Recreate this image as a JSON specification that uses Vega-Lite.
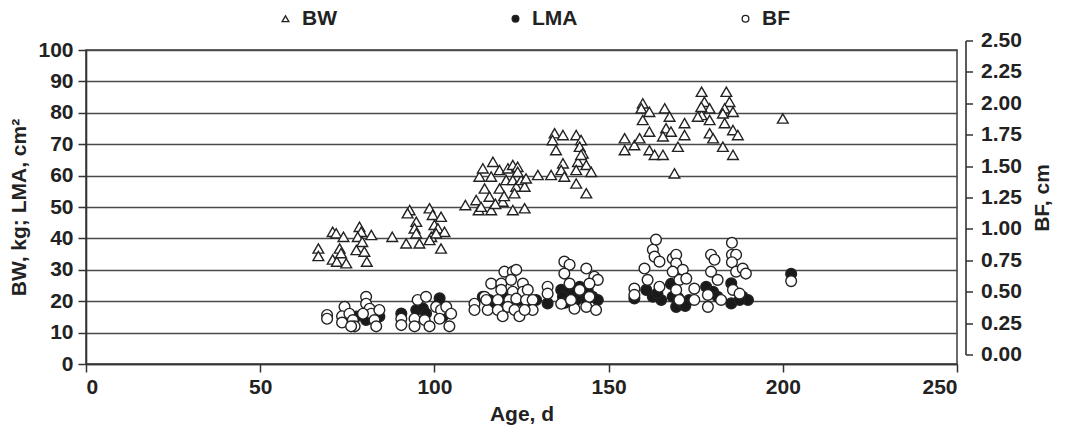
{
  "$schema": "https://vega.github.io/schema/vega-lite/v6.json",
  "width": 871,
  "height": 314,
  "autosize": {"type": "none"},
  "padding": {"left": 86, "top": 50, "right": 108, "bottom": 64},
  "background": "white",
  "datasets": {
    "bwlma": [
      {"age":66.7,"series":"BW","value":36.8},{"age":66.7,"series":"BW","value":34.4},{"age":70.8,"series":"BW","value":42.1},{"age":71.8,"series":"BW","value":41.6},{"age":73.9,"series":"BW","value":40.5},{"age":72.8,"series":"BW","value":36.8},{"age":70.8,"series":"BW","value":33.3},{"age":72.0,"series":"BW","value":32.6},{"age":73.2,"series":"BW","value":35.3},{"age":74.7,"series":"BW","value":32.1},{"age":78.5,"series":"BW","value":43.7},{"age":79.0,"series":"BW","value":42.1},{"age":78.0,"series":"BW","value":40.5},{"age":79.3,"series":"BW","value":38.9},{"age":77.6,"series":"BW","value":36.3},{"age":79.9,"series":"BW","value":35.8},{"age":80.6,"series":"BW","value":32.6},{"age":81.9,"series":"BW","value":41.1},
      {"age":87.9,"series":"BW","value":40.5},{"age":91.9,"series":"BW","value":38.4},{"age":92.9,"series":"BW","value":49.0},{"age":92.3,"series":"BW","value":48.0},{"age":94.8,"series":"BW","value":45.3},{"age":94.3,"series":"BW","value":43.2},{"age":94.8,"series":"BW","value":41.6},{"age":95.7,"series":"BW","value":38.4},{"age":98.6,"series":"BW","value":49.6},{"age":99.5,"series":"BW","value":47.5},{"age":100.0,"series":"BW","value":44.3},{"age":101.9,"series":"BW","value":46.9},{"age":99.1,"series":"BW","value":40.5},{"age":101.0,"series":"BW","value":43.2},{"age":102.9,"series":"BW","value":42.1},{"age":101.9,"series":"BW","value":36.8},{"age":98.6,"series":"BW","value":39.5},{"age":100.5,"series":"BW","value":41.6},
      {"age":108.9,"series":"BW","value":50.6},{"age":112.0,"series":"BW","value":52.2},{"age":112.7,"series":"BW","value":49.0},{"age":112.9,"series":"BW","value":59.7},
      {"age":113.9,"series":"BW","value":62.3},{"age":116.8,"series":"BW","value":64.4},{"age":114.4,"series":"BW","value":55.9},{"age":115.8,"series":"BW","value":53.3},{"age":116.3,"series":"BW","value":49.0},{"age":113.4,"series":"BW","value":50.1},{"age":118.7,"series":"BW","value":61.8},{"age":118.7,"series":"BW","value":55.9},{"age":119.6,"series":"BW","value":51.7},{"age":121.1,"series":"BW","value":62.3},{"age":120.6,"series":"BW","value":58.6},{"age":122.5,"series":"BW","value":63.4},{"age":123.9,"series":"BW","value":62.8},{"age":122.5,"series":"BW","value":58.6},{"age":123.5,"series":"BW","value":56.5},{"age":123.0,"series":"BW","value":54.4},{"age":124.9,"series":"BW","value":58.6},{"age":125.9,"series":"BW","value":56.5},{"age":122.5,"series":"BW","value":49.0},{"age":125.9,"series":"BW","value":49.6},{"age":123.9,"series":"BW","value":61.2},{"age":126.3,"series":"BW","value":59.1},{"age":129.7,"series":"BW","value":60.2},{"age":116.3,"series":"BW","value":59.7},{"age":117.5,"series":"BW","value":51.0},{"age":120.0,"series":"BW","value":53.5},
      {"age":133.5,"series":"BW","value":60.2},{"age":134.5,"series":"BW","value":73.5},{"age":136.9,"series":"BW","value":72.9},{"age":133.9,"series":"BW","value":71.3},{"age":134.9,"series":"BW","value":68.1},{"age":136.9,"series":"BW","value":63.9},{"age":136.4,"series":"BW","value":61.8},{"age":137.3,"series":"BW","value":59.7},{"age":140.7,"series":"BW","value":72.9},{"age":142.1,"series":"BW","value":71.3},{"age":141.7,"series":"BW","value":69.2},{"age":142.6,"series":"BW","value":67.1},{"age":141.2,"series":"BW","value":64.4},{"age":143.6,"series":"BW","value":63.4},{"age":140.7,"series":"BW","value":61.8},{"age":145.0,"series":"BW","value":61.2},{"age":140.7,"series":"BW","value":57.5},{"age":143.6,"series":"BW","value":54.4},{"age":142.1,"series":"BW","value":66.6},
      {"age":154.6,"series":"BW","value":71.9},{"age":154.6,"series":"BW","value":68.1},{"age":157.4,"series":"BW","value":69.7},{"age":158.9,"series":"BW","value":71.9},{"age":159.8,"series":"BW","value":83.0},{"age":159.4,"series":"BW","value":81.4},{"age":161.7,"series":"BW","value":80.3},{"age":159.8,"series":"BW","value":77.7},{"age":161.7,"series":"BW","value":74.0},{"age":161.7,"series":"BW","value":68.1},{"age":163.2,"series":"BW","value":66.6},{"age":165.6,"series":"BW","value":66.6},{"age":166.1,"series":"BW","value":81.4},{"age":167.5,"series":"BW","value":78.8},{"age":166.5,"series":"BW","value":75.1},{"age":167.9,"series":"BW","value":74.0},{"age":165.6,"series":"BW","value":72.5},{"age":169.9,"series":"BW","value":69.2},{"age":171.8,"series":"BW","value":76.7},{"age":171.8,"series":"BW","value":72.9},{"age":168.9,"series":"BW","value":60.7},
      {"age":176.7,"series":"BW","value":86.7},{"age":183.8,"series":"BW","value":86.7},{"age":177.5,"series":"BW","value":83.5},{"age":184.7,"series":"BW","value":83.5},{"age":179.0,"series":"BW","value":81.4},{"age":183.3,"series":"BW","value":81.4},{"age":185.7,"series":"BW","value":80.3},{"age":176.7,"series":"BW","value":79.3},{"age":179.0,"series":"BW","value":77.7},{"age":183.3,"series":"BW","value":76.7},{"age":182.8,"series":"BW","value":79.8},{"age":179.0,"series":"BW","value":73.5},{"age":180.0,"series":"BW","value":71.9},{"age":185.7,"series":"BW","value":74.5},{"age":187.1,"series":"BW","value":72.9},{"age":182.8,"series":"BW","value":69.2},{"age":185.7,"series":"BW","value":66.6},{"age":200.0,"series":"BW","value":78.2},{"age":175.6,"series":"BW","value":78.8},{"age":176.6,"series":"BW","value":81.9},
      {"age":75.6,"series":"LMA","value":15.1},{"age":77.6,"series":"LMA","value":15.1},{"age":80.4,"series":"LMA","value":14.0},{"age":84.2,"series":"LMA","value":15.1},{"age":82.3,"series":"LMA","value":15.6},{"age":90.5,"series":"LMA","value":16.1},{"age":94.8,"series":"LMA","value":17.2},{"age":96.7,"series":"LMA","value":17.7},{"age":97.6,"series":"LMA","value":16.1},{"age":101.5,"series":"LMA","value":20.9},{"age":102.4,"series":"LMA","value":15.1},
      {"age":113.9,"series":"LMA","value":21.4},{"age":115.8,"series":"LMA","value":20.4},{"age":118.7,"series":"LMA","value":20.4},{"age":120.6,"series":"LMA","value":21.4},{"age":124.4,"series":"LMA","value":20.4},{"age":127.3,"series":"LMA","value":20.4},{"age":129.2,"series":"LMA","value":20.4},{"age":132.5,"series":"LMA","value":19.3},{"age":136.4,"series":"LMA","value":23.6},{"age":136.9,"series":"LMA","value":21.4},{"age":138.8,"series":"LMA","value":23.6},{"age":141.7,"series":"LMA","value":24.6},{"age":142.6,"series":"LMA","value":22.5},{"age":145.4,"series":"LMA","value":21.4},{"age":146.9,"series":"LMA","value":20.4},{"age":140.7,"series":"LMA","value":20.4},{"age":143.6,"series":"LMA","value":20.4},{"age":117.7,"series":"LMA","value":19.3},{"age":139.5,"series":"LMA","value":22.0},{"age":144.0,"series":"LMA","value":23.5},{"age":137.5,"series":"LMA","value":19.5},
      {"age":157.4,"series":"LMA","value":20.9},{"age":160.8,"series":"LMA","value":23.6},{"age":162.7,"series":"LMA","value":21.4},{"age":165.1,"series":"LMA","value":20.4},{"age":167.9,"series":"LMA","value":25.5},{"age":168.4,"series":"LMA","value":21.4},{"age":169.4,"series":"LMA","value":18.2},{"age":171.3,"series":"LMA","value":19.3},{"age":173.1,"series":"LMA","value":20.4},{"age":164.0,"series":"LMA","value":22.5},{"age":170.0,"series":"LMA","value":21.0},{"age":172.0,"series":"LMA","value":18.5},
      {"age":178.0,"series":"LMA","value":24.6},{"age":180.0,"series":"LMA","value":23.0},{"age":181.3,"series":"LMA","value":21.4},{"age":185.2,"series":"LMA","value":25.7},{"age":185.2,"series":"LMA","value":19.3},{"age":188.5,"series":"LMA","value":21.4},{"age":190.0,"series":"LMA","value":20.4},{"age":187.6,"series":"LMA","value":20.4},{"age":202.4,"series":"LMA","value":28.7}
    ],
    "bf": [
      {"age":69.2,"series":"BF","value":0.39},{"age":69.2,"series":"BF","value":0.36},{"age":74.2,"series":"BF","value":0.455},{"age":73.5,"series":"BF","value":0.38},{"age":73.5,"series":"BF","value":0.33},{"age":75.6,"series":"BF","value":0.40},{"age":76.6,"series":"BF","value":0.35},{"age":77.1,"series":"BF","value":0.30},{"age":76.1,"series":"BF","value":0.30},{"age":80.4,"series":"BF","value":0.535},{"age":80.4,"series":"BF","value":0.48},{"age":81.4,"series":"BF","value":0.44},{"age":81.9,"series":"BF","value":0.40},{"age":84.2,"series":"BF","value":0.43},{"age":82.8,"series":"BF","value":0.35},{"age":83.3,"series":"BF","value":0.30},{"age":79.5,"series":"BF","value":0.40},
      {"age":90.5,"series":"BF","value":0.36},{"age":90.5,"series":"BF","value":0.31},{"age":95.2,"series":"BF","value":0.51},{"age":97.6,"series":"BF","value":0.535},{"age":94.3,"series":"BF","value":0.36},{"age":94.3,"series":"BF","value":0.30},{"age":97.2,"series":"BF","value":0.35},{"age":98.6,"series":"BF","value":0.30},{"age":100.5,"series":"BF","value":0.455},{"age":101.9,"series":"BF","value":0.43},{"age":103.4,"series":"BF","value":0.455},{"age":104.8,"series":"BF","value":0.40},{"age":104.3,"series":"BF","value":0.30},{"age":101.5,"series":"BF","value":0.36},
      {"age":111.5,"series":"BF","value":0.48},{"age":111.5,"series":"BF","value":0.43},
      {"age":116.3,"series":"BF","value":0.64},{"age":114.4,"series":"BF","value":0.535},{"age":115.3,"series":"BF","value":0.43},{"age":119.2,"series":"BF","value":0.64},{"age":120.1,"series":"BF","value":0.735},{"age":122.5,"series":"BF","value":0.735},{"age":123.5,"series":"BF","value":0.75},{"age":122.0,"series":"BF","value":0.67},{"age":125.4,"series":"BF","value":0.64},{"age":119.2,"series":"BF","value":0.59},{"age":122.5,"series":"BF","value":0.575},{"age":125.4,"series":"BF","value":0.575},{"age":126.8,"series":"BF","value":0.59},{"age":114.9,"series":"BF","value":0.51},{"age":118.2,"series":"BF","value":0.51},{"age":121.5,"series":"BF","value":0.51},{"age":123.5,"series":"BF","value":0.52},{"age":126.3,"series":"BF","value":0.51},{"age":128.2,"series":"BF","value":0.51},{"age":118.2,"series":"BF","value":0.43},{"age":121.1,"series":"BF","value":0.455},{"age":123.0,"series":"BF","value":0.43},{"age":119.6,"series":"BF","value":0.38},{"age":124.4,"series":"BF","value":0.38},{"age":128.2,"series":"BF","value":0.43},{"age":125.9,"series":"BF","value":0.43},
      {"age":132.5,"series":"BF","value":0.615},{"age":132.5,"series":"BF","value":0.56},{"age":137.3,"series":"BF","value":0.815},{"age":138.8,"series":"BF","value":0.79},{"age":137.3,"series":"BF","value":0.72},{"age":138.8,"series":"BF","value":0.64},{"age":143.6,"series":"BF","value":0.76},{"age":145.9,"series":"BF","value":0.695},{"age":146.9,"series":"BF","value":0.67},{"age":136.4,"series":"BF","value":0.48},{"age":140.2,"series":"BF","value":0.44},{"age":143.6,"series":"BF","value":0.455},{"age":146.4,"series":"BF","value":0.43},{"age":139.2,"series":"BF","value":0.51},{"age":141.7,"series":"BF","value":0.59},{"age":144.5,"series":"BF","value":0.64},{"age":144.5,"series":"BF","value":0.535},
      {"age":163.6,"series":"BF","value":0.99},{"age":162.7,"series":"BF","value":0.91},{"age":163.2,"series":"BF","value":0.855},{"age":164.6,"series":"BF","value":0.815},{"age":160.3,"series":"BF","value":0.76},{"age":157.4,"series":"BF","value":0.60},{"age":157.4,"series":"BF","value":0.55},{"age":161.2,"series":"BF","value":0.67},{"age":164.6,"series":"BF","value":0.615},{"age":168.4,"series":"BF","value":0.84},{"age":169.4,"series":"BF","value":0.87},{"age":169.4,"series":"BF","value":0.80},{"age":171.3,"series":"BF","value":0.75},{"age":170.3,"series":"BF","value":0.67},{"age":172.3,"series":"BF","value":0.68},{"age":168.4,"series":"BF","value":0.735},{"age":169.4,"series":"BF","value":0.59},{"age":174.6,"series":"BF","value":0.60},{"age":170.3,"series":"BF","value":0.51},{"age":174.6,"series":"BF","value":0.51},
      {"age":179.4,"series":"BF","value":0.87},{"age":180.4,"series":"BF","value":0.83},{"age":179.4,"series":"BF","value":0.735},{"age":181.3,"series":"BF","value":0.67},{"age":178.5,"series":"BF","value":0.55},{"age":178.5,"series":"BF","value":0.455},{"age":182.3,"series":"BF","value":0.51},{"age":185.4,"series":"BF","value":0.965},{"age":185.4,"series":"BF","value":0.87},{"age":186.6,"series":"BF","value":0.87},{"age":185.4,"series":"BF","value":0.81},{"age":186.6,"series":"BF","value":0.735},{"age":188.5,"series":"BF","value":0.76},{"age":189.4,"series":"BF","value":0.72},{"age":185.7,"series":"BF","value":0.59},{"age":187.6,"series":"BF","value":0.56},{"age":202.4,"series":"BF","value":0.66}
    ]
  },
  "config": {
    "view": {"stroke": "#3a3a3a", "strokeWidth": 1.5},
    "font": "Liberation Sans",
    "axis": {
      "labelFont": "Liberation Sans", "labelFontSize": 21, "labelFontWeight": "bold", "labelColor": "#222",
      "titleFont": "Liberation Sans", "titleFontSize": 21, "titleFontWeight": "bold", "titleColor": "#222",
      "domainColor": "#333", "domainWidth": 1.6, "tickColor": "#333", "tickWidth": 1.5, "tickSize": 8
    },
    "legend": {
      "orient": "none", "legendX": 189, "legendY": -42, "direction": "horizontal", "gridAlign": "all",
      "labelFont": "Liberation Sans", "labelFontSize": 21, "labelFontWeight": "bold", "labelColor": "#222",
      "symbolSize": 45, "symbolStrokeWidth": 1.3, "labelOffset": 6,
      "columnPadding": 157
    }
  },
  "layer": [
    {
      "data": {"name": "bwlma"},
      "mark": {"type": "point", "filled": true, "size": 115, "strokeWidth": 1.4, "opacity": 1},
      "encoding": {
        "x": {"field": "age", "type": "quantitative", "scale": {"domain": [0, 250], "nice": false},
              "axis": {"values": [0, 50, 100, 150, 200, 250], "title": "Age, d", "grid": false, "labelPadding": 4, "titlePadding": 6}},
        "y": {"field": "value", "type": "quantitative", "scale": {"domain": [0, 100], "nice": false},
              "axis": {"values": [0, 10, 20, 30, 40, 50, 60, 70, 80, 90, 100], "title": "BW, kg; LMA, cm²", "grid": true, "gridColor": "#4a4a4a", "gridWidth": 1.5, "labelPadding": 5, "titlePadding": 8}},
        "shape": {"field": "series", "type": "nominal", "title": null,
                  "scale": {"domain": ["BW", "LMA", "BF"], "range": ["triangle-up", "circle", "circle"]}},
        "fill": {"field": "series", "type": "nominal", "title": null,
                 "scale": {"domain": ["BW", "LMA", "BF"], "range": ["white", "#1a1a1a", "white"]}},
        "stroke": {"field": "series", "type": "nominal", "title": null,
                   "scale": {"domain": ["BW", "LMA", "BF"], "range": ["#222222", "#222222", "#222222"]}}
      }
    },
    {
      "data": {"name": "bf"},
      "mark": {"type": "point", "filled": true, "size": 115, "strokeWidth": 1.4, "opacity": 1},
      "encoding": {
        "x": {"field": "age", "type": "quantitative"},
        "y": {"field": "value", "type": "quantitative", "scale": {"domain": [0, 2.5], "nice": false},
              "axis": {"orient": "right", "values": [0, 0.25, 0.5, 0.75, 1, 1.25, 1.5, 1.75, 2, 2.25, 2.5], "format": ".2f",
                       "title": "BF, cm", "titleAngle": 270, "titleBaseline": "top", "grid": false, "offset": 18, "translate": -9, "tickSize": 7, "labelPadding": 8, "titlePadding": 10}},
        "shape": {"field": "series", "type": "nominal", "title": null,
                  "scale": {"domain": ["BW", "LMA", "BF"], "range": ["triangle-up", "circle", "circle"]}},
        "fill": {"field": "series", "type": "nominal", "title": null,
                 "scale": {"domain": ["BW", "LMA", "BF"], "range": ["white", "#1a1a1a", "white"]}},
        "stroke": {"field": "series", "type": "nominal", "title": null,
                   "scale": {"domain": ["BW", "LMA", "BF"], "range": ["#222222", "#222222", "#222222"]}}
      }
    }
  ],
  "resolve": {"scale": {"y": "independent"}}
}
